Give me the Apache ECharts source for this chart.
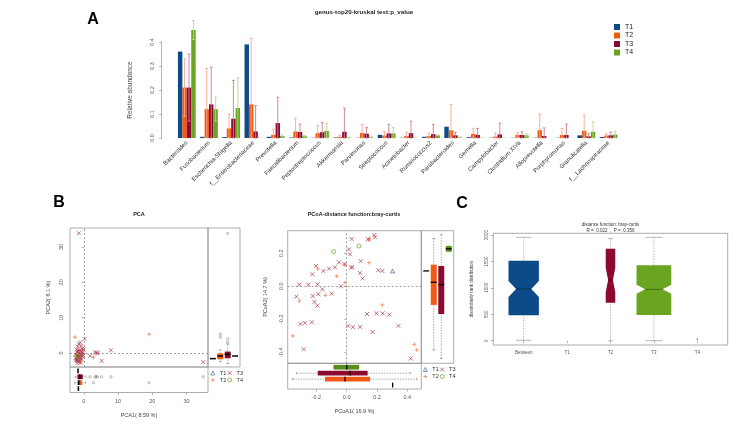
<!DOCTYPE html>
<html><head><meta charset="utf-8">
<script src="https://cdn.jsdelivr.net/npm/echarts@6/dist/echarts.min.js"></script>
<style>html,body{margin:0;padding:0;background:#fff}#c{width:753px;height:424px}</style>
</head><body><div id="c"></div><script>
// ---------------- Panel A data ----------------
const genera = ['Bacteroides','Fusobacterium','Escherichia-Shigella','f__Enterobacteriaceae','Prevotella','Faecalibacterium','Peptostreptococcus','Akkermansia','Parvimonas','Streptococcus','Acinetobacter','Ruminococcus2','Parabacteroides','Gemella','Campylobacter','Clostridium XIVa','Alloprevotella','Porphyromonas','Granulicatella','f__Lachnospiraceae'];
const groups = ['T1','T2','T3','T4'];
const abundT1 = [0.36,0.005,0.004,0.39,0.005,0.002,0.001,0.002,0.001,0.013,0.001,0.005,0.047,0.003,0.001,0.001,0.001,0.001,0.011,0.004];
const abundT2 = [0.21,0.12,0.04,0.14,0.013,0.027,0.02,0.005,0.021,0.01,0.008,0.008,0.032,0.017,0.006,0.0125,0.033,0.0125,0.03,0.01];
const abundT3 = [0.21,0.14,0.08,0.027,0.062,0.025,0.024,0.026,0.018,0.019,0.02,0.016,0.011,0.013,0.015,0.0125,0.008,0.0125,0.007,0.011];
const abundT4 = [0.45,0.12,0.125,0.001,0.008,0.008,0.029,0.002,0.003,0.019,0.001,0.011,0.003,0.001,0.001,0.011,0.0,0.0,0.026,0.014];
const sdT2 = [0.12,0.17,0.06,0.275,0.024,0.056,0.033,0.007,0.036,0.017,0.016,0.012,0.108,0.023,0.014,0.0095,0.067,0.0265,0.066,0.007];
const sdT3 = [0.14,0.155,0.16,0.108,0.108,0.033,0.041,0.098,0.025,0.038,0.05,0.041,0.013,0.027,0.047,0.0135,0.034,0.0455,0.01,0.014];
const sdT4 = [0.04,0.05,0.125,0,0.004,0.003,0.032,0.001,0.002,0.024,0,0.002,0.001,0,0,0.006,0,0,0.041,0.014];
const abundTicks = [0, 0.1, 0.2, 0.3, 0.4];

// ---------------- Panel B: PCA ----------------
const pcaT1 = [[-1.6,-1.6]];
const pcaT2 = [[-2.6,4.5],[19.1,5.3],[2.8,-1.2],[-1.9,-1.5],[-1.5,-0.9],[-1.2,-2.2],[-2.2,-0.4],[-0.8,-1.2],[-1.7,0.6],[-0.5,-0.1],[-1.0,-2.6],[-2.4,-2.0],[-1.4,0.2],[-0.3,0.8],[-2.0,-1.0]];
const pcaT3 = [[-1.46,33.9],[34.9,-2.6],[7.9,0.75],[5.2,-2.2],[3.3,0.2],[3.8,0.1],[4.0,-0.1],[1.8,-0.8],[-1.1,3.0],[0.2,4.0],[-0.5,1.2],[-1.8,1.8],[-1.2,0.8],[-2.0,0.3],[-1.5,-0.2],[-0.8,-0.5],[-1.9,-1.0],[-1.3,-1.4],[-0.6,-1.8],[-2.2,-1.9],[-1.7,-2.4],[-1.0,-2.8],[-0.3,0.1],[-1.6,-0.8],[-2.4,-0.5],[-0.9,0.4],[-1.4,-1.1],[-1.9,-2.9],[-0.4,-1.0],[-2.1,1.0],[-1.0,-0.3],[-1.7,0.5],[-0.2,-0.6],[-1.2,-2.0],[-2.3,-1.4],[-0.7,2.0],[-1.5,2.5],[-0.1,1.0],[-2.0,-2.2]];
const pcaT4 = [[-1.7,-0.85],[-1.7,-0.9]];
// five-number summaries [lower whisker, Q1, median, Q3, upper whisker] per group T1..T4
const pcaPC1Stats = [[-1.6,-1.6,-1.6,-1.6,-1.6],[-2.7,-1.9,-1.5,-0.5,0.5],[-2.5,-1.9,-1.2,-0.3,0.6],[-1.7,-1.7,-1.7,-1.7,-1.7]];
const pcaPC2Stats = [[-1.6,-1.6,-1.6,-1.6,-1.6],[-2.5,-1.8,-0.85,-0.1,0.85],[-3.0,-1.5,-0.4,0.4,2.5],[-0.85,-0.85,-0.85,-0.85,-0.85]];
const pcaPC1Outliers = [[], [2.8,19.1], [1.8,3.3,3.6,4.0,5.2,7.9,34.9], []];
const pcaPC2Outliers = [[], [4.5,5.3], [3.0,4.0,33.9], []];
const pcaTicks = [0, 10, 20, 30];

// ---------------- Panel B: PCoA ----------------
const pcoaT1 = [[0.303,0.093]];
const pcoaT2 = [[0.147,0.281],[0.15,0.29],[-0.191,0.105],[-0.066,0.061],[-0.011,0.022],[-0.141,-0.055],[-0.312,-0.089],[-0.356,-0.301],[0.235,-0.113],[0.446,-0.352],[0.462,-0.386],[0.147,0.143],[-0.012,0.13]];
const pcoaT3 = [[0.182,0.311],[0.187,0.297],[0.14,0.285],[0.033,0.287],[0.015,0.224],[0.022,0.194],[-0.051,0.145],[-0.015,0.135],[0.037,0.117],[0.029,0.113],[0.092,0.152],[0.088,0.081],[0.105,0.048],[0.209,0.097],[0.235,0.093],[-0.202,0.123],[-0.154,0.093],[-0.116,0.107],[-0.077,0.115],[-0.226,0.073],[-0.037,0.0],[-0.312,0.01],[-0.253,0.01],[-0.193,0.012],[-0.16,-0.018],[-0.187,-0.048],[-0.224,-0.059],[-0.099,-0.044],[-0.332,-0.063],[-0.213,-0.095],[-0.193,-0.117],[-0.305,-0.228],[-0.275,-0.222],[-0.231,-0.218],[-0.284,-0.382],[0.011,-0.24],[0.042,-0.248],[0.088,-0.246],[0.134,-0.168],[0.196,-0.164],[0.237,-0.164],[0.281,-0.172],[0.341,-0.24],[0.171,-0.277],[0.422,-0.438]];
const pcoaT4 = [[-0.086,0.21],[0.081,0.244]];
const pcoaPC1Stats = [[0.303,0.303,0.303,0.303,0.303],[-0.356,-0.143,-0.011,0.154,0.462],[-0.33,-0.191,0.022,0.138,0.422],[-0.086,-0.086,0.0,0.081,0.081]];
const pcoaPC2Stats = [[0.093,0.093,0.093,0.093,0.093],[-0.386,-0.113,0.024,0.131,0.29],[-0.438,-0.168,0.01,0.123,0.315],[0.21,0.21,0.227,0.244,0.244]];
const pcoaXTicks = [-0.2, 0, 0.2, 0.4];
const pcoaYTicks = [-0.4, -0.2, 0, 0.2];

// ---------------- Panel C: ANOSIM ----------------
const anosimCats = ['Between','T1','T2','T3','T4'];
const anosimBoxNames = ['Between','T2','T3'];
const anosimStats = [[8,480,978,1514,1956],[0,719,1149,1741,1937],[0,486,972,1426,1956]];
const anosimNotch = [150, 230, 85];
const anosimSingle = [['T4', 30]];
const anosimTicks = [0, 500, 1000, 1500, 2000];

// ---------------- styles ----------------
const FONT = 'Liberation Sans, Arial, Helvetica, sans-serif';
const colT = ['#0c4a88','#f05a16','#8c0a30','#6aa520'];
const errCol = ['#7fa0c4','#f6a888','#c87d93','#b7d68e'];
const ptCol = ['#3a6ea5','#f07040','#b03050','#5f9e1e'];
const axisGray = '#888';
const labGray = '#555';
const PLUS = 'path://M0,5L10,5M5,0L5,10';
const CROSS = 'path://M0,0L10,10M10,0L0,10';

function errSeries(k) {
  const vals = [abundT1, abundT2, abundT3, abundT4][k];
  const sds = [null, sdT2, sdT3, sdT4][k];
  return {
    type: 'custom', xAxisIndex: 0, yAxisIndex: 0, silent: true, clip: false, z: 5,
    data: genera.map((g, i) => [i, vals[i], sds[i]]),
    renderItem(params, api) {
      const i = api.value(0), m = api.value(1), s = api.value(2);
      if (!(s > 0)) return null;
      const W = api.size([1, 0])[0];
      const cx = api.coord([i, 0])[0] + W * (-0.4 + 0.2 * (k + 0.5));
      const yT = api.coord([i, m + s])[1];
      const yB = api.coord([i, Math.max(0, m - s)])[1];
      const cw = 1.4, st = { stroke: errCol[k], lineWidth: 0.9 };
      return { type: 'group', children: [
        { type: 'line', shape: { x1: cx, y1: yT, x2: cx, y2: yB }, style: st },
        { type: 'line', shape: { x1: cx - cw, y1: yT, x2: cx + cw, y2: yT }, style: st },
        { type: 'line', shape: { x1: cx - cw, y1: yB, x2: cx + cw, y2: yB }, style: st }
      ]};
    }
  };
}

function boxSeries(xi, yi, vertical, data, colors, widths, medStyle, whiskStyle) {
  return {
    type: 'custom', xAxisIndex: xi, yAxisIndex: yi, silent: true, clip: false, z: 3,
    data,
    renderItem(params, api) {
      const idx = params.dataIndex;
      const pos = api.value(0), lo = api.value(1), q1 = api.value(2), md = api.value(3), q3 = api.value(4), hi = api.value(5), nh = api.value(6);
      const hw = widths[idx] / 2;
      const P = (v, d) => api.coord(vertical ? [pos + d, v] : [v, pos + d]);
      const L = (a, b, style) => ({ type: 'line', shape: { x1: a[0], y1: a[1], x2: b[0], y2: b[1] }, style });
      const ch = [];
      const dash = { stroke: whiskStyle.color, lineWidth: 0.6, lineDash: [1.5, 1.2] };
      const cap = { stroke: whiskStyle.color, lineWidth: 0.6 };
      if (hi > lo) {
        ch.push(L(P(lo, 0), P(q1, 0), dash));
        ch.push(L(P(q3, 0), P(hi, 0), dash));
        ch.push(L(P(lo, -hw / 2), P(lo, hw / 2), cap));
        ch.push(L(P(hi, -hw / 2), P(hi, hw / 2), cap));
      }
      if (q3 > q1) {
        let pts;
        if (nh > 0) pts = [P(q1,-hw),P(q1,hw),P(md-nh,hw),P(md,hw*0.5),P(md+nh,hw),P(q3,hw),P(q3,-hw),P(md+nh,-hw),P(md,-hw*0.5),P(md-nh,-hw)];
        else pts = [P(q1,-hw),P(q1,hw),P(q3,hw),P(q3,-hw)];
        ch.push({ type: 'polygon', shape: { points: pts }, style: { fill: colors[idx], stroke: null } });
      }
      const mw = nh > 0 ? hw * 0.5 : hw;
      ch.push(L(P(md, -mw), P(md, mw), { stroke: medStyle.color, lineWidth: medStyle.width }));
      return { type: 'group', children: ch };
    }
  };
}

function outlierSeries(xi, yi, vertical, outs) {
  const d = [];
  outs.forEach((arr, g) => arr.forEach(v => d.push(vertical ? [g + 1, v] : [v, g + 1])));
  return { type: 'scatter', xAxisIndex: xi, yAxisIndex: yi, silent: true, symbol: 'circle', symbolSize: 2.4, z: 4,
    itemStyle: { color: 'rgba(0,0,0,0)', borderColor: '#555', borderWidth: 0.5 }, data: d };
}

function scatterSet(xi, yi, sets, tag, zeroLines) {
  const syms = ['triangle', PLUS, CROSS, 'circle'];
  return sets.map((d, k) => {
    const s = {
      name: groups[k] + '|' + tag, type: 'scatter', xAxisIndex: xi, yAxisIndex: yi, silent: true,
      symbol: syms[k], symbolSize: 4, data: d, z: 4,
      itemStyle: { color: 'rgba(0,0,0,0)', borderColor: ptCol[k], borderWidth: 0.7, opacity: 1 }
    };
    if (k === 0 && zeroLines) {
      s.markLine = { silent: true, symbol: ['none', 'none'], animation: false, label: { show: false },
        lineStyle: { type: [2, 2], color: '#666', width: 0.6 }, data: [{ xAxis: 0 }, { yAxis: 0 }] };
    }
    return s;
  });
}

const tick = { show: true, inside: false, length: 2.5, lineStyle: { color: axisGray, width: 0.6 } };
const hidden = (gi, min, max) => ({ type: 'value', gridIndex: gi, min, max, show: false, splitLine: { show: false } });
const gridBox = (left, top, width, height) => ({ left, top, width, height, show: true, borderColor: '#8a8a8a', borderWidth: 0.7, backgroundColor: 'transparent', outerBoundsMode: 'none' });
const nameStyle = (fs) => ({ fontSize: fs, color: '#444', fontFamily: FONT });

const toData = (stats) => stats.map((s, i) => [i + 1, ...s, 0]);

const option = {
  animation: false,
  textStyle: { fontFamily: FONT },
  grid: [
    { left: 175.7, top: 42, width: 444, height: 96, show: false, outerBoundsMode: 'none' },
    gridBox(70, 228, 138, 139),
    gridBox(70, 367, 138, 25.5),
    gridBox(208, 228, 32, 139),
    gridBox(287.7, 230.7, 133.6, 132.6),
    gridBox(287.7, 363.3, 133.6, 25.7),
    gridBox(421.3, 230.7, 32.4, 132.6),
    gridBox(493.3, 233.3, 234.4, 111.7)
  ],
  xAxis: [
    { type: 'category', gridIndex: 0, data: genera, axisLine: { show: false }, axisTick: { show: false },
      axisLabel: { rotate: 45, interval: 0, fontSize: 6, color: '#333', margin: 4, fontFamily: FONT }, splitLine: { show: false } },
    hidden(1, -4.06, 36.3),
    { type: 'value', gridIndex: 2, min: -4.06, max: 36.3, axisLine: { show: false }, splitLine: { show: false },
      axisTick: Object.assign({ customValues: pcaTicks }, tick),
      axisLabel: { customValues: pcaTicks, fontSize: 5.5, color: labGray, margin: 6, formatter: v => String(v) },
      name: 'PCA1( 8.59 %)', nameLocation: 'middle', nameGap: 20, nameTextStyle: nameStyle(5.5) },
    hidden(3, 0.34, 4.66),
    hidden(4, -0.389, 0.492),
    { type: 'value', gridIndex: 5, min: -0.389, max: 0.492, axisLine: { show: false }, splitLine: { show: false },
      axisTick: Object.assign({ customValues: pcoaXTicks }, tick),
      axisLabel: { customValues: pcoaXTicks, fontSize: 5.5, color: labGray, margin: 5, formatter: v => v.toFixed(1) },
      name: 'PCoA1( 16.9 %)', nameLocation: 'middle', nameGap: 19, nameTextStyle: nameStyle(5.5) },
    hidden(6, 0.34, 4.66),
    { type: 'value', gridIndex: 7, min: 0.3, max: 5.7, axisLine: { show: false }, splitLine: { show: false },
      axisTick: Object.assign({ customValues: [1, 2, 3, 4, 5] }, tick),
      axisLabel: { customValues: [1, 2, 3, 4, 5], fontSize: 4.5, color: labGray, margin: 5, formatter: v => anosimCats[Math.round(v) - 1] } }
  ],
  yAxis: [
    { type: 'value', gridIndex: 0, min: 0, max: 0.4, interval: 0.1, offset: 14,
      axisLine: { show: true, lineStyle: { color: axisGray, width: 0.6 } }, axisTick: tick, splitLine: { show: false },
      axisLabel: { rotate: 90, fontSize: 5.5, color: labGray, margin: 6, formatter: v => v.toFixed(1) },
      name: 'Relative abundance', nameLocation: 'middle', nameGap: 28, nameRotate: 90, nameTextStyle: nameStyle(6.5) },
    { type: 'value', gridIndex: 1, min: -3.97, max: 35.4, axisLine: { show: false }, splitLine: { show: false },
      axisTick: Object.assign({ customValues: pcaTicks }, tick),
      axisLabel: { customValues: pcaTicks, rotate: 90, fontSize: 5.5, color: labGray, margin: 6, formatter: v => String(v) },
      name: 'PCA2( 6.1 %)', nameLocation: 'middle', nameGap: 19, nameRotate: 90, nameTextStyle: nameStyle(5.5) },
    hidden(2, 0.34, 4.66),
    hidden(3, -3.97, 35.4),
    { type: 'value', gridIndex: 4, min: -0.467, max: 0.337, axisLine: { show: false }, splitLine: { show: false },
      axisTick: Object.assign({ customValues: pcoaYTicks }, tick),
      axisLabel: { customValues: pcoaYTicks, rotate: 90, fontSize: 5.5, color: labGray, margin: 3.5, formatter: v => v.toFixed(1) },
      name: 'PCoA2( 14.7 %)', nameLocation: 'middle', nameGap: 19, nameRotate: 90, nameTextStyle: nameStyle(5.5) },
    hidden(5, 0.34, 4.66),
    hidden(6, -0.467, 0.337),
    { type: 'value', gridIndex: 7, min: -81, max: 2032, axisLine: { show: false }, splitLine: { show: false },
      axisTick: Object.assign({ customValues: anosimTicks }, tick),
      axisLabel: { customValues: anosimTicks, rotate: 90, fontSize: 4.5, color: labGray, margin: 4.5, formatter: v => String(v) },
      name: 'dissimilarity rank distribution', nameLocation: 'middle', nameGap: 19, nameRotate: 90, nameTextStyle: nameStyle(4.5) }
  ],
  legend: [
    { data: groups, left: 614, top: 23.5, orient: 'vertical', icon: 'rect', itemWidth: 6, itemHeight: 6, itemGap: 1.5, padding: 0,
      selectedMode: false, textStyle: { fontSize: 7, color: '#222', fontFamily: FONT } },
    { data: groups.map(g => g + '|pca'), left: 210.5, top: 370, height: 18, orient: 'vertical', itemWidth: 4, itemHeight: 4, itemGap: 1,
      padding: 0, selectedMode: false, formatter: n => n.split('|')[0], itemStyle: { borderWidth: 0.7 },
      textStyle: { fontSize: 5.5, color: '#333', fontFamily: FONT } },
    { data: groups.map(g => g + '|pcoa'), left: 423, top: 366.5, height: 14, orient: 'vertical', itemWidth: 4, itemHeight: 4, itemGap: 1,
      padding: 0, selectedMode: false, formatter: n => n.split('|')[0], itemStyle: { borderWidth: 0.7 },
      textStyle: { fontSize: 5.5, color: '#333', fontFamily: FONT } }
  ],
  graphic: [
    { type: 'text', x: 93, y: 20, style: { text: 'A', fontSize: 16, fontWeight: 'bold', fontFamily: FONT, fill: '#000', align: 'center', verticalAlign: 'middle' } },
    { type: 'text', x: 59, y: 203, style: { text: 'B', fontSize: 16, fontWeight: 'bold', fontFamily: FONT, fill: '#000', align: 'center', verticalAlign: 'middle' } },
    { type: 'text', x: 462, y: 204, style: { text: 'C', fontSize: 16, fontWeight: 'bold', fontFamily: FONT, fill: '#000', align: 'center', verticalAlign: 'middle' } },
    { type: 'text', x: 364, y: 12.5, style: { text: 'genus-top20-kruskal test:p_value', fontSize: 6.2, fontWeight: 'bold', fontFamily: FONT, fill: '#222', align: 'center', verticalAlign: 'middle' } },
    { type: 'text', x: 139, y: 214, style: { text: 'PCA', fontSize: 5.5, fontWeight: 'bold', fontFamily: FONT, fill: '#222', align: 'center', verticalAlign: 'middle' } },
    { type: 'text', x: 354, y: 214, style: { text: 'PCoA-distance function:bray-curtis', fontSize: 5.5, fontWeight: 'bold', fontFamily: FONT, fill: '#222', align: 'center', verticalAlign: 'middle' } },
    { type: 'text', x: 610.5, y: 225, style: { text: 'distance function: bray-curtis', fontSize: 4.5, fontFamily: FONT, fill: '#333', align: 'center', verticalAlign: 'middle' } },
    { type: 'text', x: 610.5, y: 230.8, style: { text: 'R =  0.022  ,  P =  0.356', fontSize: 4.5, fontFamily: FONT, fill: '#333', align: 'center', verticalAlign: 'middle' } }
  ],
  series: [
    ...[abundT1, abundT2, abundT3, abundT4].map((d, k) => ({
      name: groups[k], type: 'bar', xAxisIndex: 0, yAxisIndex: 0, data: d, clip: false, silent: true,
      barGap: '0%', barCategoryGap: '20%', itemStyle: { color: colT[k] }
    })),
    errSeries(1), errSeries(2), errSeries(3),
    ...scatterSet(1, 1, [pcaT1, pcaT2, pcaT3, pcaT4], 'pca', true),
    boxSeries(2, 2, false, toData(pcaPC1Stats), ['#000', colT[1], colT[2], '#000'], [0.8,0.8,0.8,0.8], { color: '#000', width: 1.5 }, { color: '#777' }),
    outlierSeries(2, 2, false, pcaPC1Outliers),
    boxSeries(3, 3, true, toData(pcaPC2Stats), ['#000', colT[1], colT[2], '#000'], [0.8,0.8,0.8,0.8], { color: '#000', width: 1.5 }, { color: '#777' }),
    outlierSeries(3, 3, true, pcaPC2Outliers),
    ...scatterSet(4, 4, [pcoaT1, pcoaT2, pcoaT3, pcoaT4], 'pcoa', true),
    boxSeries(5, 5, false, toData(pcoaPC1Stats), ['#000', colT[1], colT[2], '#5a8f1c'], [0.8,0.8,0.8,0.8], { color: '#000', width: 1.3 }, { color: '#777' }),
    boxSeries(6, 6, true, toData(pcoaPC2Stats), ['#000', colT[1], colT[2], '#5a8f1c'], [0.8,0.8,0.8,0.8], { color: '#000', width: 1.3 }, { color: '#777' }),
    boxSeries(7, 7, true,
      anosimStats.map((s, i) => [anosimCats.indexOf(anosimBoxNames[i]) + 1, ...s, anosimNotch[i]]),
      [colT[0], colT[2], colT[3]], [0.7, 0.22, 0.8], { color: 'rgba(0,0,0,0.45)', width: 0.8 }, { color: '#888' }),
    { type: 'scatter', xAxisIndex: 7, yAxisIndex: 7, silent: true, symbol: 'circle', symbolSize: 1.6,
      itemStyle: { color: '#555' }, data: anosimSingle.map(([n, v]) => [anosimCats.indexOf(n) + 1, v]) }
  ]
};
echarts.init(document.getElementById('c'), null, { renderer: 'canvas' }).setOption(option);
</script></body></html>
